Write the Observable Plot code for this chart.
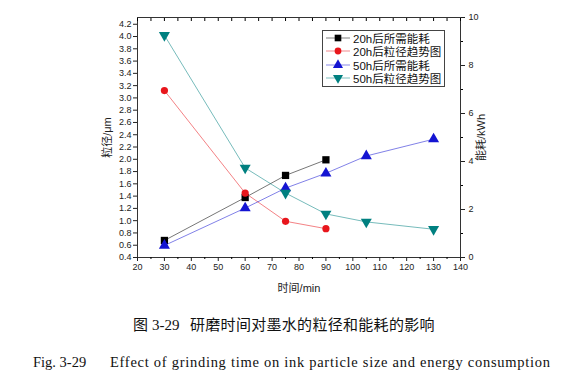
<!DOCTYPE html>
<html><head><meta charset="utf-8">
<script src="https://cdn.jsdelivr.net/npm/d3@7"></script>
<script src="https://cdn.jsdelivr.net/npm/@observablehq/plot@0.6"></script>
<style>
body{margin:0;background:#fff;}
#wrap{position:relative;width:585px;height:390px;overflow:hidden;}
#legend{position:absolute;left:322px;top:30px;width:121px;height:55px;border:1px solid #444;background:#fff;font:11.5px "Liberation Sans","Noto Sans CJK SC",sans-serif;color:#111;}
#legend .row{height:13.5px;display:flex;align-items:center;margin-left:2px;}
#legend svg{margin-right:2px;}
.cap{position:absolute;font-family:"Liberation Serif","Noto Sans CJK SC",serif;color:#111;white-space:pre;line-height:20px;}
.cap span{position:absolute;top:0;}
</style></head>
<body><div id="wrap"><div id="chart"></div><div id="legend"></div>
<div class="cap" style="top:315px;left:0;width:585px;height:20px;font-size:15px;">
<span style="left:133px;">图</span><span style="left:152px;">3-29</span><span style="left:190px;letter-spacing:0.3px;">研磨时间对墨水的粒径和能耗的影响</span></div>
<div class="cap" style="top:352px;left:0;width:585px;height:20px;font-size:14.5px;">
<span style="left:33px;">Fig. 3-29</span><span style="left:110px;letter-spacing:0.72px;">Effect of grinding time on ink particle size and energy consumption</span></div>
</div>
<script>
const seriesNames = ["20h后所需能耗","20h后粒径趋势图","50h后所需能耗","50h后粒径趋势图"];
const colors = ["#000000","#e8161c","#1414d2","#008080"];
const symbols = ["square","circle","triangle","triangle"];
const times20 = [30, 60, 75, 90];
const energy20 = [0.71, 2.50, 3.42, 4.07];   // kWh
const size20 = [3.12, 1.45, 0.99, 0.87];     // μm
const times50 = [30, 60, 75, 90, 105, 130];
const energy50 = [0.50, 2.06, 2.89, 3.51, 4.23, 4.93]; // kWh
const size50 = [4.02, 1.86, 1.45, 1.11, 0.98, 0.86];   // μm
const xTicks = [20,30,40,50,60,70,80,90,100,110,120,130,140];
const xMinor = [25,35,45,55,65,75,85,95,105,115,125,135];
const leftTicks = [0.4,0.6,0.8,1.0,1.2,1.4,1.6,1.8,2.0,2.2,2.4,2.6,2.8,3.0,3.2,3.4,3.6,3.8,4.0,4.2];
const rightTicks = [0,2,4,6,8,10];
const rightMinor = [1,3,5,7,9];

const yMin = 0.4, yMax = 4.31;
const k = (yMax - yMin) / 10;
const toLeft = e => yMin + e * k;

const data = [];
times20.forEach((t,i)=>{ data.push({s:0,t,v:toLeft(energy20[i])}); data.push({s:1,t,v:size20[i]}); });
times50.forEach((t,i)=>{ data.push({s:2,t,v:toLeft(energy50[i])}); data.push({s:3,t,v:size50[i]}); });

const font = {fontSize: 9};
const marks = [];
marks.push(Plot.frame({stroke:"#333"}));
marks.push(Plot.axisX({ticks:xTicks, tickSize:4, tickPadding:2, ...font, label:"时间/min", labelArrow:"none", labelAnchor:"center", labelOffset:34, color:"#222"}));
marks.push(Plot.axisX({ticks:xMinor, tickSize:2, tickFormat:()=>"", label:null}));
marks.push(Plot.axisX({anchor:"top", ticks:xTicks.concat(xMinor), tickSize:-3, tickFormat:()=>"", label:null}));
marks.push(Plot.axisY({ticks:leftTicks, tickSize:4, tickPadding:2, tickFormat:d=>d.toFixed(1), ...font, label:"粒径/μm", labelArrow:"none", labelAnchor:"center", labelOffset:34, color:"#222"}));
marks.push(Plot.axisY({anchor:"right", ticks:rightTicks.map(toLeft), tickSize:4, tickPadding:4, tickFormat:d=>String(Math.round((d-yMin)/k)), ...font, label:"能耗/kWh", labelArrow:"none", labelAnchor:"center", labelOffset:24, color:"#222"}));
marks.push(Plot.axisY({anchor:"right", ticks:rightMinor.map(toLeft), tickSize:2, tickFormat:()=>"", label:null}));
for (let s=0; s<4; s++) {
  const d = data.filter(o=>o.s===s);
  marks.push(Plot.line(d, {x:"t", y:"v", stroke:colors[s], strokeWidth:0.9, strokeOpacity:0.6}));
  marks.push(Plot.dot(d, {x:"t", y:"v", fill:colors[s], stroke:"none", symbol:symbols[s], r: s===1?3.6:4.1, rotate: s===3?180:0}));
}
const chart = Plot.plot({
  width:585, height:300,
  marginLeft:137, marginRight:125, marginTop:17, marginBottom:43,
  style:{fontFamily:'"Liberation Sans","Noto Sans CJK SC",sans-serif', fontSize:"9px", background:"#fff"},
  x:{domain:[20,140]},
  y:{domain:[yMin,yMax]},
  marks
});
document.getElementById("chart").appendChild(chart);
chart.querySelectorAll('[aria-label$="axis label"] text').forEach(t=>{
  t.style.fontSize="11px";
  t.textContent = t.textContent.replace(/\s*[→↑↓←]\s*/g,"");
});

const leg = document.getElementById("legend");
seriesNames.forEach((name,i)=>{
  const row = document.createElement("div"); row.className="row";
  const svg = d3.create("svg").attr("width",26).attr("height",12);
  svg.append("line").attr("x1",1).attr("x2",25).attr("y1",6).attr("y2",6).attr("stroke",colors[i]).attr("stroke-opacity",0.5);
  const sym = [d3.symbolSquare,d3.symbolCircle,d3.symbolTriangle,d3.symbolTriangle][i];
  svg.append("path").attr("d",d3.symbol(sym, i===1?36:44)()).attr("transform",`translate(13,6) rotate(${i===3?180:0})`).attr("fill",colors[i]);
  row.appendChild(svg.node());
  const sp = document.createElement("span"); sp.textContent=name; row.appendChild(sp);
  leg.appendChild(row);
});
</script></body></html>
